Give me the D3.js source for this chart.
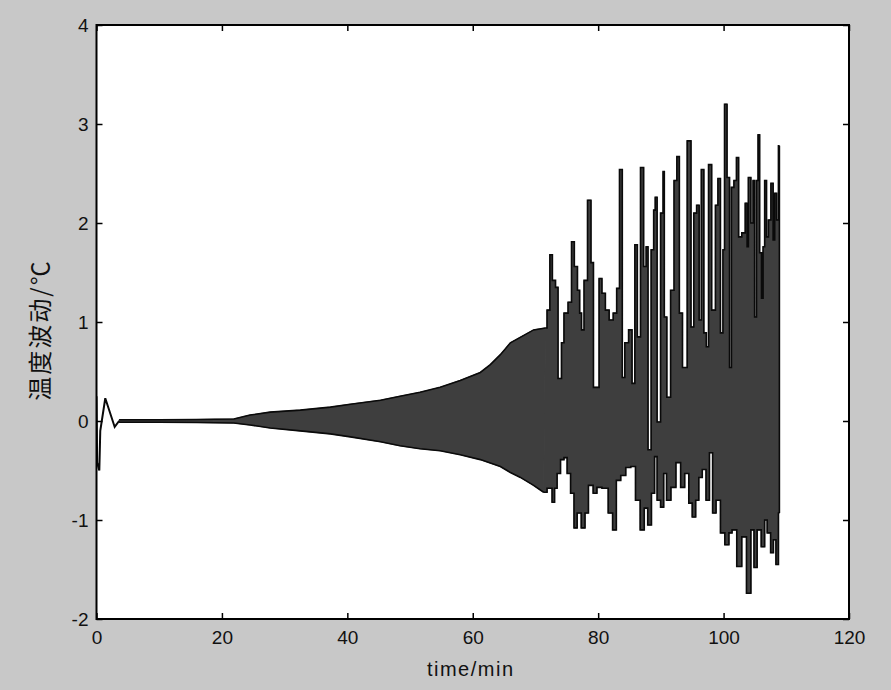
<!DOCTYPE html>
<html>
<head>
<meta charset="utf-8">
<script src="https://cdn.jsdelivr.net/npm/d3@7/dist/d3.min.js"></script>
<style>
  html, body { margin: 0; padding: 0; background: #c8c8c8; }
  svg { display: block; }
</style>
</head>
<body>
<svg id="chart" width="891" height="690"></svg>
<script>
// ---- data ----
const xTicks = [0, 20, 40, 60, 80, 100, 120];
const yTicks = [-2, -1, 0, 1, 2, 3, 4];
const xLabel = "time/min";
const yLabel = "温度波动/℃";

// start-up transient (min, °C)
const transT = [0, 0.1, 0.45, 0.6, 1.4, 2.9, 3.6];
const transV = [0.25, -0.42, -0.5, -0.1, 0.23, -0.06, 0.0];

// time where the smooth growth turns into irregular bursts
const burstStart = 71.5;

// upper envelope of the oscillation
const upperT = [3.6, 10, 16, 21.9, 24.5, 27.7, 32.5, 37.3, 40.5, 45.3, 48.4, 51.6, 54.8, 58.0, 61.2, 62.8, 64.4, 66.0, 69.7, 71.6,
  72.1, 72.5, 72.9, 73.5, 73.7, 74.0, 74.3, 74.8, 75.6, 75.9, 76.5, 76.9, 77.2, 77.5, 78.0, 78.6, 79.1, 79.4, 79.9,
  80.4, 80.8, 81.5, 82.0, 82.8, 83.1, 83.7, 84.0, 84.5, 85.2, 85.6, 86.1, 86.4, 87.1, 87.4, 87.9, 88.0, 88.2,
  88.7, 89.0, 89.2, 89.6, 90.3, 90.4, 90.7, 91.2, 91.9, 92.3, 92.8, 93.1, 93.8, 94.6, 95.0, 95.5, 95.9,
  96.3, 96.6, 97.1, 97.4, 97.8, 98.4, 99.0, 99.2, 99.8, 100.0, 100.3, 100.8, 101.1, 101.4, 101.9, 102.2,
  102.6, 103.2, 103.7, 103.8, 104.1, 104.6, 104.8, 105.1, 105.4, 105.6, 105.9, 106.2, 106.4, 106.7, 107.0,
  107.3, 107.8, 108.0, 108.3, 108.6, 108.9];
const upperV = [0.012, 0.012, 0.015, 0.02, 0.06, 0.09, 0.11, 0.14, 0.17, 0.21, 0.25, 0.29, 0.34, 0.41, 0.49, 0.57, 0.67, 0.79, 0.92, 0.94,
  1.12, 1.68, 1.42, 1.35, 0.43, 0.43, 0.79, 1.09, 1.20, 1.81, 1.56, 1.32, 1.09, 0.92, 1.42, 2.23, 1.60, 0.34, 0.34,
  1.44, 1.29, 1.12, 1.02, 1.09, 1.34, 2.54, 0.44, 0.79, 0.92, 0.38, 1.78, 0.85, 2.56, 1.56, 1.76, -0.29, -0.29,
  1.73, 2.13, 2.26, -0.01, 2.10, 2.52, 1.05, 0.24, 1.32, 2.43, 2.67, 1.09, 0.54, 2.83, 0.95, 2.10, 2.18,
  1.02, 2.54, 0.89, 0.75, 2.59, 1.12, 2.18, 2.45, 0.89, 1.73, 3.20, 2.46, 0.54, 2.36, 2.43, 2.66,
  1.86, 1.90, 2.20, 1.76, 2.46, 2.00, 2.43, 1.05, 2.43, 2.89, 1.70, 1.24, 1.76, 2.43, 1.86,
  2.03, 2.40, 1.83, 2.30, 2.03, 2.78];

// lower envelope of the oscillation
const lowerT = [3.6, 10, 16, 21.9, 24.5, 27.7, 32.5, 37.3, 40.5, 45.3, 48.4, 51.6, 54.8, 58.0, 61.2, 64.4, 66.0, 67.6, 69.7, 71.3,
  72.4, 72.9, 73.2, 73.7, 74.3, 74.8, 75.3, 75.9, 76.4, 76.9, 77.7, 78.1, 78.8, 79.6, 80.0, 81.2, 82.0, 82.6,
  83.2, 84.0, 84.8, 85.6, 86.3, 87.1, 87.6, 88.2, 88.8, 89.2, 89.6, 90.3, 90.6, 91.2, 92.0, 92.8, 93.5, 94.1,
  94.8, 95.2, 95.9, 96.2, 97.0, 97.4, 98.1, 98.4, 99.2, 99.8, 100.6, 101.1, 101.6, 102.6, 103.2, 104.1, 104.6,
  105.1, 105.6, 106.4, 106.7, 107.2, 107.8, 108.1, 108.6, 108.9];
const lowerV = [-0.012, -0.012, -0.015, -0.02, -0.04, -0.07, -0.10, -0.13, -0.16, -0.21, -0.25, -0.28, -0.30, -0.34, -0.39, -0.46, -0.52, -0.57, -0.65, -0.72,
  -0.68, -0.82, -0.68, -0.53, -0.39, -0.37, -0.53, -0.73, -1.08, -0.93, -1.08, -0.93, -0.65, -0.73, -0.67, -0.68, -0.93, -1.10,
  -0.60, -0.55, -0.47, -0.46, -0.80, -1.10, -0.88, -1.05, -0.73, -0.36, -0.80, -0.87, -0.53, -0.80, -0.67, -0.42, -0.67, -0.53,
  -0.83, -0.97, -0.80, -0.57, -0.49, -0.80, -0.32, -0.93, -0.80, -1.13, -1.25, -1.13, -1.10, -1.47, -1.17, -1.74, -1.10,
  -1.48, -1.10, -1.27, -1.00, -1.13, -1.33, -1.20, -1.45, -0.93];

// ---- layout ----
const svg = d3.select("#chart");
const W = 891, H = 690;
const mLeft = 96.5, mRight = 849, mTop = 25, mBottom = 619;

svg.append("rect").attr("x", 0).attr("y", 0).attr("width", W).attr("height", H).attr("fill", "#c8c8c8");

const x = d3.scaleLinear().domain([0, 120]).range([mLeft, mRight]);
const y = d3.scaleLinear().domain([-2, 4]).range([mBottom, mTop]);

svg.append("rect").attr("x", mLeft).attr("y", mTop)
  .attr("width", mRight - mLeft).attr("height", mBottom - mTop).attr("fill", "#ffffff");

const plot = svg.append("g").attr("clip-path", "url(#clip)");
svg.append("clipPath").attr("id", "clip").append("rect")
  .attr("x", mLeft).attr("y", mTop).attr("width", mRight - mLeft).attr("height", mBottom - mTop);

const upper = upperT.map((t, i) => ({ t, v: upperV[i] }));
const lower = lowerT.map((t, i) => ({ t, v: lowerV[i] }));

// smooth part (linear) and burst part (stepped, like the sampled trace)
const upA = upper.filter(d => d.t <= burstStart + 0.2);
const loA = lower.filter(d => d.t <= burstStart);
const upB = upper.filter(d => d.t >= burstStart);
const loB = lower.filter(d => d.t >= burstStart - 0.3);

const linLine = d3.line().x(d => x(d.t)).y(d => y(d.v));
const stepLine = d3.line().x(d => x(d.t)).y(d => y(d.v)).curve(d3.curveStep);

const FILL = "#3e3e3e", EDGE = "#0a0a0a";

// fills
plot.append("path")
  .attr("d", linLine(upA.concat(loA.slice().reverse())) + "Z")
  .attr("fill", FILL).attr("stroke", FILL).attr("stroke-width", 1);
plot.append("path")
  .attr("d", stepLine(upB.concat(loB.slice().reverse())) + "Z")
  .attr("fill", FILL).attr("stroke", FILL).attr("stroke-width", 1);

// edges
const edgeStyle = p => p.attr("fill", "none").attr("stroke", EDGE).attr("stroke-width", 1.6).attr("stroke-linejoin", "miter");
plot.append("path").attr("d", linLine(upA)).call(edgeStyle);
plot.append("path").attr("d", linLine(loA)).call(edgeStyle);
plot.append("path").attr("d", stepLine(upB)).call(edgeStyle);
plot.append("path").attr("d", stepLine(loB)).call(edgeStyle);
// trailing vertical edge at the end of the record
const lastU = upper[upper.length - 1], lastL = lower[lower.length - 1];
plot.append("path").attr("d", linLine([lastU, lastL])).call(edgeStyle);

// transient
const trans = transT.map((t, i) => ({ t, v: transV[i] }));
plot.append("path")
  .attr("d", linLine(trans))
  .attr("fill", "none")
  .attr("stroke", EDGE)
  .attr("stroke-width", 2);

// ---- axes ----
const font = "'Liberation Sans', Arial, Helvetica, sans-serif";
const fmt = d => String(d);

const gx = svg.append("g").attr("transform", `translate(0,${mBottom})`)
  .call(d3.axisBottom(x).tickValues(xTicks).tickSize(-6).tickSizeOuter(0).tickPadding(12).tickFormat(fmt));
const gy = svg.append("g").attr("transform", `translate(${mLeft},0)`)
  .call(d3.axisLeft(y).tickValues(yTicks).tickSize(-6).tickSizeOuter(0).tickPadding(8).tickFormat(fmt));
const gxt = svg.append("g").attr("transform", `translate(0,${mTop})`)
  .call(d3.axisTop(x).tickValues(xTicks).tickSize(-6).tickSizeOuter(0).tickFormat(""));
const gyr = svg.append("g").attr("transform", `translate(${mRight},0)`)
  .call(d3.axisRight(y).tickValues(yTicks).tickSize(-6).tickSizeOuter(0).tickFormat(""));

[gx, gy, gxt, gyr].forEach(g => {
  g.select(".domain").remove();
  g.selectAll(".tick line").attr("stroke", "#000").attr("stroke-width", 1.5);
  g.selectAll(".tick text").attr("font-family", font).attr("font-size", 19).attr("fill", "#111");
});

// box
svg.append("rect").attr("x", mLeft).attr("y", mTop)
  .attr("width", mRight - mLeft).attr("height", mBottom - mTop)
  .attr("fill", "none").attr("stroke", "#000").attr("stroke-width", 2);

// labels
svg.append("text")
  .attr("x", (mLeft + mRight) / 2 - 2).attr("y", 676)
  .attr("text-anchor", "middle")
  .attr("font-family", font).attr("font-size", 20).attr("letter-spacing", 1.5)
  .attr("fill", "#111")
  .text(xLabel);

svg.append("text")
  .attr("transform", `translate(49,330) rotate(-90)`)
  .attr("text-anchor", "middle")
  .attr("font-family", "'Noto Sans CJK SC', sans-serif").attr("font-size", 24).attr("letter-spacing", 2)
  .attr("fill", "#111")
  .text(yLabel);
</script>
</body>
</html>
